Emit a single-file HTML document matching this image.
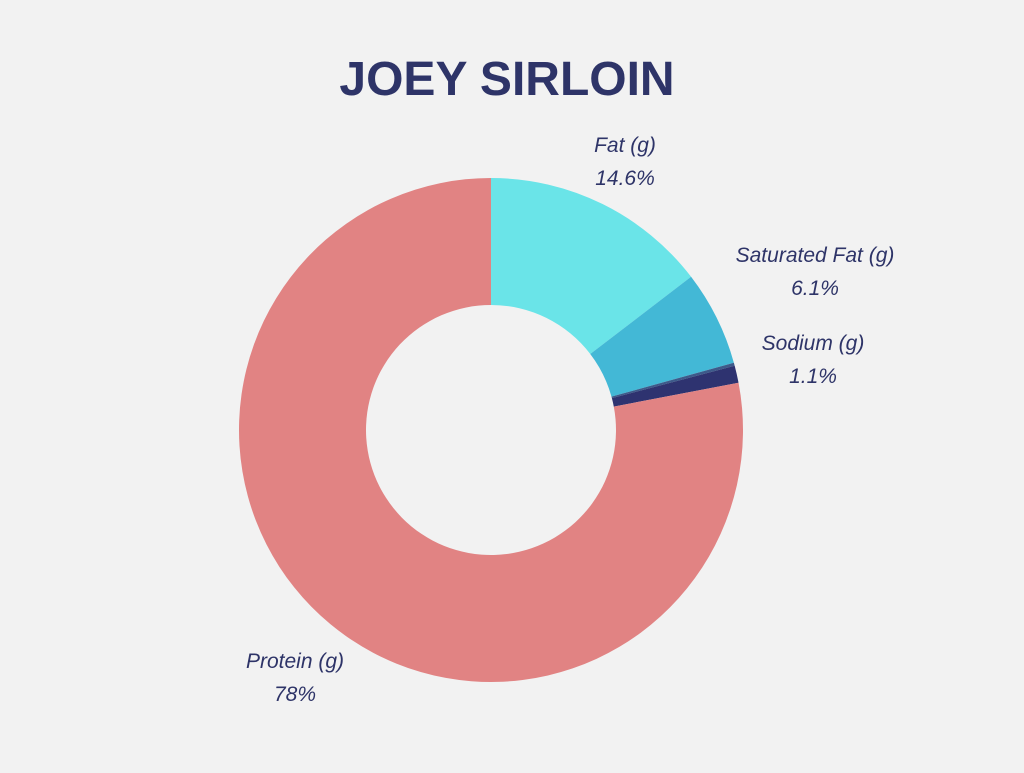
<!DOCTYPE html>
<html><head><meta charset="utf-8">
<style>
html,body{margin:0;padding:0;background:#f2f2f2;}
body{width:1024px;height:768px;overflow:hidden;font-family:"Liberation Sans",sans-serif;}
</style></head>
<body>
<svg width="1024" height="768" viewBox="0 0 1024 768">
<rect width="1024" height="768" fill="#f2f2f2"/>
<text x="507" y="95" text-anchor="middle" font-family="Liberation Sans, sans-serif" font-weight="bold" font-size="48" fill="#2e3468">JOEY SIRLOIN</text>
<g id="slices"></g>
<g id="labels" font-family="Liberation Sans, sans-serif" font-style="italic" font-size="21" fill="#2e3468" text-anchor="middle"></g>
</svg>
<script>
const categories = ["Fat (g)", "Saturated Fat (g)", "Cholesterol", "Sodium (g)", "Protein (g)"];
const values = [14.6, 6.1, 0.2, 1.1, 78];
const valueLabels = ["14.6%", "6.1%", "", "1.1%", "78%"];
const colors = ["#6ae4e8", "#43b8d6", "#3d5a8a", "#2e3370", "#e18383"];
const showLabel = [true, true, false, true, true];

const cx = 491, cy = 430, R = 252, r = 125;
const total = values.reduce((a, b) => a + b, 0);
const ns = "http://www.w3.org/2000/svg";
const gS = document.getElementById("slices");
const gL = document.getElementById("labels");
function pt(rad, a) { return [cx + rad * Math.sin(a), cy - rad * Math.cos(a)]; }
let acc = 0;
values.forEach((v, i) => {
  const a0 = acc / total * 2 * Math.PI;
  acc += v;
  const a1 = acc / total * 2 * Math.PI;
  const large = (a1 - a0) > Math.PI ? 1 : 0;
  const [x0, y0] = pt(R, a0), [x1, y1] = pt(R, a1), [x2, y2] = pt(r, a1), [x3, y3] = pt(r, a0);
  const p = document.createElementNS(ns, "path");
  p.setAttribute("d", `M${x0},${y0} A${R},${R} 0 ${large} 1 ${x1},${y1} L${x2},${y2} A${r},${r} 0 ${large} 0 ${x3},${y3} Z`);
  p.setAttribute("fill", colors[i]);
  
  
  gS.appendChild(p);
  if (!showLabel[i]) return;
  const am = (a0 + a1) / 2;
  let lr = R + 65;
  if (v > 50) lr = R + 50;
  let [lx, ly] = pt(lr, am);
  if (i === 0) { lx = 625; ly = 152; }
  if (i === 1) { lx = 815; ly = 262; }
  if (i === 3) { lx = 813; ly = 350; }
  if (i === 4) { lx = 295; ly = 668; }
  const t1 = document.createElementNS(ns, "text");
  t1.setAttribute("x", lx); t1.setAttribute("y", ly);
  t1.textContent = categories[i];
  
  
  gL.appendChild(t1);
  const t2 = document.createElementNS(ns, "text");
  t2.setAttribute("x", lx); t2.setAttribute("y", ly + 33);
  t2.textContent = valueLabels[i];
  
  
  gL.appendChild(t2);
});
</script>
</body></html>
